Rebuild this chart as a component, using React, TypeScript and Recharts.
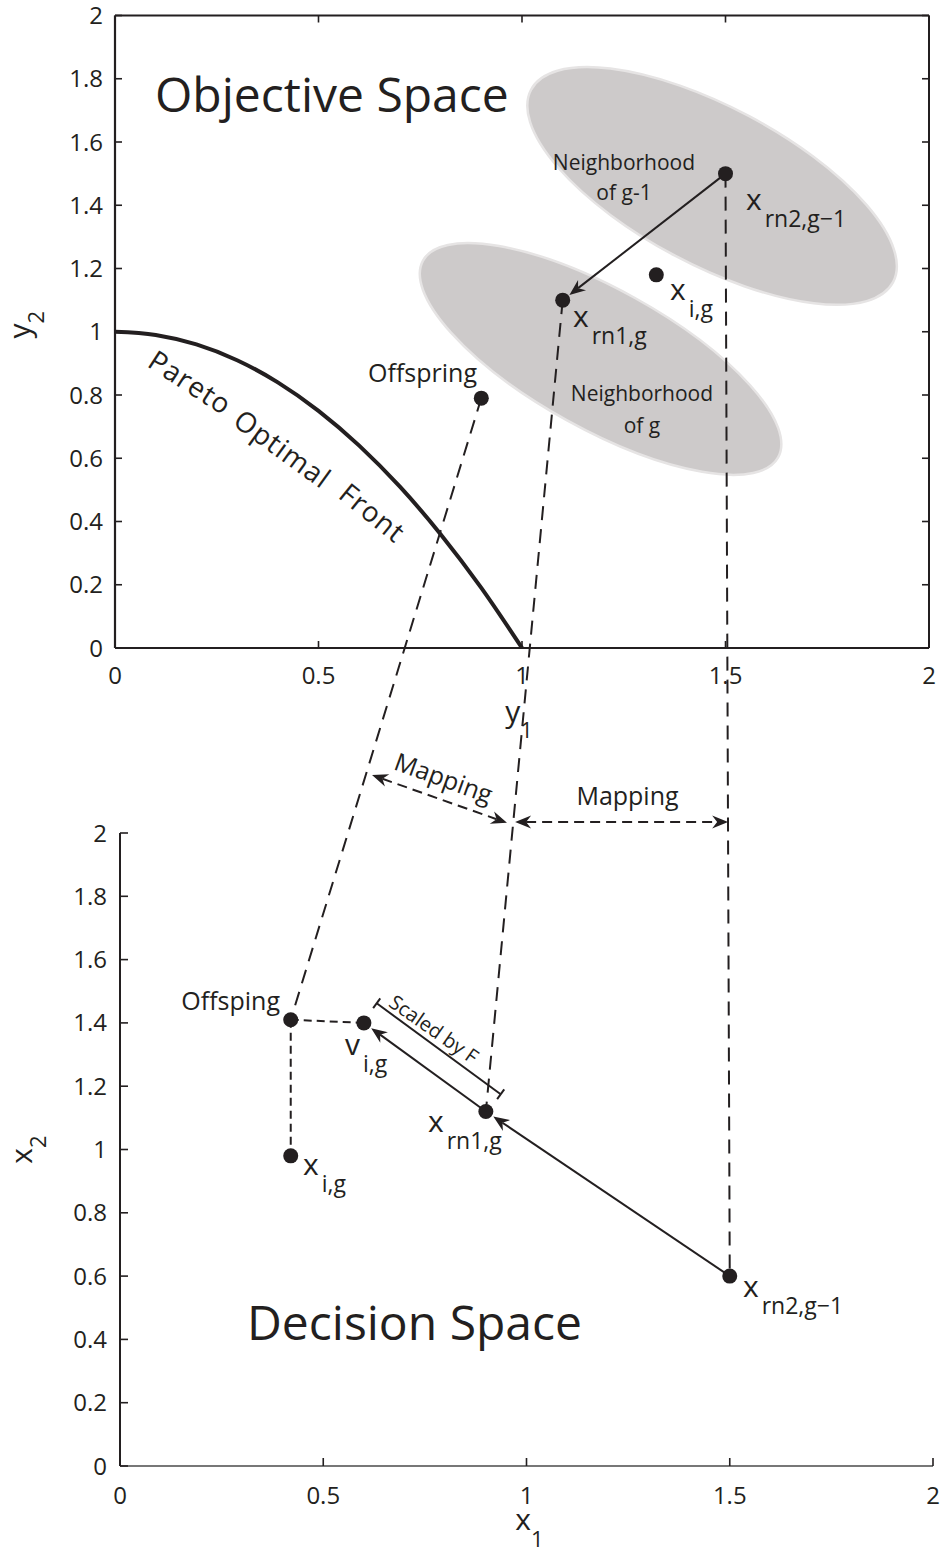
import React from 'react';
import { ComposedChart, XAxis, YAxis, Line, Scatter, ReferenceLine, ReferenceDot } from 'recharts';

const INK = '#231f20';
const FONT = '"Open Sans", "Noto Sans", sans-serif';
const W = 943;
const H = 1555;
const DOMAIN: [number, number] = [0, 2];

// panel geometry (pixels)
const TOP = { left: 115, right: 929, top: 15.5, bottom: 648 };
const BOT = { left: 120, right: 933, top: 833, bottom: 1466 };

// tick values
const yTicks = [0, 0.2, 0.4, 0.6, 0.8, 1, 1.2, 1.4, 1.6, 1.8, 2];
const xTicks = [0, 0.5, 1, 1.5, 2];

// Pareto optimal front (objective space)
const paretoY1 = [0, 0.1, 0.2, 0.3, 0.4, 0.5, 0.6, 0.7, 0.8, 0.9, 1.0];
const paretoY2 = [1.0, 0.99, 0.96, 0.91, 0.84, 0.75, 0.64, 0.51, 0.36, 0.19, 0.0];

// objective-space points
const objNames = ['rn2', 'rn1', 'i', 'offspring'];
const objY1 = [1.5, 1.1, 1.33, 0.9];
const objY2 = [1.5, 1.1, 1.18, 0.79];

// decision-space points
const decNames = ['rn2', 'rn1', 'i', 'v', 'offspring'];
const decX1 = [1.5, 0.9, 0.42, 0.6, 0.42];
const decX2 = [0.6, 1.12, 0.98, 1.4, 1.41];

// neighborhoods (objective space centres)
const hoodNames = ['g-1', 'g'];
const hoodY1 = [1.467, 1.193];
const hoodY2 = [1.461, 0.914];

// mapping arrows (decision-space units, above the panel)
const mapLeftX1 = [0.62, 0.952];
const mapLeftX2 = [2.183, 2.032];
const mapRightX1 = [0.972, 1.496];
const mapRightX2 = [2.035, 2.035];

// "Scaled by F" bracket (decision-space units)
const scaledX1 = [0.6315, 0.9365];
const scaledX2 = [1.462, 1.1744];

const paretoData = paretoY1.map((x, i) => ({ x, y: paretoY2[i] }));
const objPts: Record<string, { x: number; y: number }> = {};
objNames.forEach((n, i) => (objPts[n] = { x: objY1[i], y: objY2[i] }));
const decPts: Record<string, { x: number; y: number }> = {};
decNames.forEach((n, i) => (decPts[n] = { x: decX1[i], y: decX2[i] }));
const objData = objNames.map((n) => objPts[n]);
const decData = decNames.map((n) => decPts[n]);

const botToTop = (p: { x: number; y: number }) => {
  const span = DOMAIN[1] - DOMAIN[0];
  const px = BOT.left + ((p.x - DOMAIN[0]) / span) * (BOT.right - BOT.left);
  const py = BOT.bottom - ((p.y - DOMAIN[0]) / span) * (BOT.bottom - BOT.top);
  return {
    x: DOMAIN[0] + ((px - TOP.left) / (TOP.right - TOP.left)) * span,
    y: DOMAIN[0] + ((TOP.bottom - py) / (TOP.bottom - TOP.top)) * span,
  };
};

// ---------- drawing helpers ----------
const tickFont = { fontFamily: FONT, fontSize: 24, fill: INK };

const yTickLeft = (gap: number, len: number) => (p: any) => (
  <g>
    <line x1={p.x} y1={p.y} x2={p.x + len} y2={p.y} stroke={INK} strokeWidth={1.6} />
    <text x={p.x - gap} y={p.y + 8.5} textAnchor="end" {...tickFont}>
      {p.payload.value}
    </text>
  </g>
);
const yTickRight = (len: number) => (p: any) => (
  <line x1={p.x} y1={p.y} x2={p.x - len} y2={p.y} stroke={INK} strokeWidth={1.6} />
);
const xTickBottom = (off: number, len: number) => (p: any) => (
  <g>
    <line x1={p.x} y1={p.y} x2={p.x} y2={p.y - len} stroke={INK} strokeWidth={1.6} />
    <text x={p.x} y={p.y + off} textAnchor="middle" {...tickFont}>
      {p.payload.value}
    </text>
  </g>
);
const xTickTop = (len: number) => (p: any) => (
  <line x1={p.x} y1={p.y} x2={p.x} y2={p.y + len} stroke={INK} strokeWidth={1.6} />
);

const hTitle = (base: string, sub: string, dx: number, dy: number, sdy: number) => (props: any) => {
  const vb = props.viewBox;
  return (
    <text x={vb.x + vb.width / 2 + dx} y={vb.y + dy} textAnchor="middle" fontFamily={FONT} fontSize={30} fill={INK}>
      {base}
      <tspan dy={sdy} fontSize={22}>
        {sub}
      </tspan>
    </text>
  );
};
const vTitle = (base: string, sub: string, bx: number, dc: number) => (props: any) => {
  const vb = props.viewBox;
  const x = vb.x + bx;
  const y = vb.y + vb.height / 2 + dc;
  return (
    <text x={x} y={y} transform={`rotate(-90 ${x} ${y})`} textAnchor="middle" fontFamily={FONT} fontSize={30} fill={INK}>
      {base}
      <tspan dy={14} fontSize={22}>
        {sub}
      </tspan>
    </text>
  );
};

const headPath = (tx: number, ty: number, ux: number, uy: number, len = 16, half = 6.5, notch = 5) => {
  const bx = tx - ux * len;
  const by = ty - uy * len;
  const nx = -uy;
  const ny = ux;
  const mx = tx - ux * (len - notch);
  const my = ty - uy * (len - notch);
  return `M${tx},${ty} L${bx + nx * half},${by + ny * half} L${mx},${my} L${bx - nx * half},${by - ny * half} Z`;
};

type ArrowOpts = { dash?: string; start?: boolean; end?: boolean; trimEnd?: number; width?: number };
const arrowShape = (o: ArrowOpts) => (p: any) => {
  const { x1, y1, x2, y2 } = p;
  const L = Math.hypot(x2 - x1, y2 - y1) || 1;
  const ux = (x2 - x1) / L;
  const uy = (y2 - y1) / L;
  const ex = x2 - ux * (o.trimEnd || 0);
  const ey = y2 - uy * (o.trimEnd || 0);
  const cutE = o.end ? 11 : 0;
  const cutS = o.start ? 11 : 0;
  return (
    <g>
      <line
        x1={x1 + ux * cutS}
        y1={y1 + uy * cutS}
        x2={ex - ux * cutE}
        y2={ey - uy * cutE}
        stroke={INK}
        strokeWidth={o.width || 2}
        strokeDasharray={o.dash}
      />
      {o.end && <path d={headPath(ex, ey, ux, uy)} fill={INK} />}
      {o.start && <path d={headPath(x1, y1, -ux, -uy)} fill={INK} />}
    </g>
  );
};

const bracketShape = (p: any) => {
  const { x1, y1, x2, y2 } = p;
  const L = Math.hypot(x2 - x1, y2 - y1) || 1;
  const nx = -(y2 - y1) / L;
  const ny = (x2 - x1) / L;
  const c = 6;
  return (
    <g stroke={INK} strokeWidth={2}>
      <line x1={x1} y1={y1} x2={x2} y2={y2} />
      <line x1={x1 - nx * c} y1={y1 - ny * c} x2={x1 + nx * c} y2={y1 + ny * c} />
      <line x1={x2 - nx * c} y1={y2 - ny * c} x2={x2 + nx * c} y2={y2 + ny * c} />
    </g>
  );
};

const ellipseShape = (rx: number, ry: number, angle: number) => (p: any) => (
  <ellipse
    cx={p.cx}
    cy={p.cy}
    rx={rx}
    ry={ry}
    transform={`rotate(${angle} ${p.cx} ${p.cy})`}
    fill="#cdcaca"
    stroke="#e6e4e4"
    strokeWidth={2.5}
  />
);

const dotShape = (p: any) => <circle cx={p.cx} cy={p.cy} r={7.5} fill={INK} />;
const noShape = () => <g />;

const txt = (key: string, x: number, y: number, render: (cx: number, cy: number) => React.ReactElement) => (
  <ReferenceDot key={key} x={x} y={y} r={0} ifOverflow="visible" zIndex={2000} shape={(p: any) => render(p.cx, p.cy)} />
);

const subLabel = (base: string, sub: string) => (cx: number, cy: number) => (
  <text x={cx} y={cy} fontFamily={FONT} fontSize={30} fill={INK}>
    {base}
    <tspan dx={3} dy={17} fontSize={23}>
      {sub}
    </tspan>
  </text>
);

const plain = (s: string, size: number, anchor: string = 'start', rot = 0, spacing = 0) => (cx: number, cy: number) => (
  <text
    x={cx}
    y={cy}
    fontFamily={FONT}
    fontSize={size}
    fill={INK}
    letterSpacing={spacing || undefined}
    textAnchor={anchor as any}
    dominantBaseline={rot ? 'central' : undefined}
    transform={rot ? `rotate(${rot} ${cx} ${cy})` : undefined}
  >
    {s}
  </text>
);

const seg = (a: { x: number; y: number }, b: { x: number; y: number }) => [
  { x: a.x, y: a.y },
  { x: b.x, y: b.y },
];

function TopPanel() {
  const cross = [
    seg(objPts.offspring, botToTop(decPts.offspring)),
    seg(objPts.rn1, botToTop(decPts.rn1)),
    seg(objPts.rn2, botToTop(decPts.rn2)),
  ];
  return (
    <ComposedChart
      width={W}
      height={H}
      margin={{ top: TOP.top - 1, right: W - TOP.right - 1, bottom: H - TOP.bottom - 40, left: 0 }}
    >
      <XAxis
        dataKey="x"
        type="number"
        domain={DOMAIN}
        ticks={xTicks}
        interval={0}
        height={40}
        tickSize={0}
        tickMargin={0}
        tick={xTickBottom(35.5, 7)}
        tickLine={false}
        axisLine={{ stroke: INK, strokeWidth: 2.2 }}
        label={hTitle('y', '1', -3, 74, 16)}
      />
      <XAxis
        xAxisId="t"
        orientation="top"
        dataKey="x"
        type="number"
        domain={DOMAIN}
        ticks={xTicks}
        interval={0}
        height={1}
        tickSize={0}
        tickMargin={0}
        tick={xTickTop(7)}
        tickLine={false}
        axisLine={{ stroke: INK, strokeWidth: 2 }}
      />
      <YAxis
        dataKey="y"
        type="number"
        domain={DOMAIN}
        ticks={yTicks}
        interval={0}
        width={TOP.left}
        tickSize={0}
        tickMargin={0}
        tick={yTickLeft(12, 7)}
        tickLine={false}
        axisLine={{ stroke: INK, strokeWidth: 2.2 }}
        label={vTitle('y', '2', 30, -7)}
      />
      <YAxis
        yAxisId="r"
        orientation="right"
        dataKey="y"
        type="number"
        domain={DOMAIN}
        ticks={yTicks}
        interval={0}
        width={1}
        tickSize={0}
        tickMargin={0}
        tick={yTickRight(7)}
        tickLine={false}
        axisLine={{ stroke: INK, strokeWidth: 2 }}
      />

      {/* anchors the box axes (top / right) */}
      <Scatter data={[{ x: 0, y: 0 }]} xAxisId="t" yAxisId="r" shape={noShape} isAnimationActive={false} />

      <Scatter
        data={[{ x: hoodY1[0], y: hoodY2[0] }]}
        shape={ellipseShape(205, 79, 28)}
        isAnimationActive={false}
        zIndex={-10}
      />
      <Scatter
        data={[{ x: hoodY1[1], y: hoodY2[1] }]}
        shape={ellipseShape(203, 70, 29)}
        isAnimationActive={false}
        zIndex={-10}
      />

      <Line
        data={paretoData}
        dataKey="y"
        type="monotone"
        stroke={INK}
        strokeWidth={4}
        dot={false}
        activeDot={false}
        isAnimationActive={false}
      />

      {cross.map((s, i) => (
        <ReferenceLine
          key={'c' + i}
          segment={s}
          ifOverflow="visible"
          shape={arrowShape({ dash: '14 9', width: 2 })}
        />
      ))}

      <ReferenceLine
        segment={seg(objPts.rn2, objPts.rn1)}
        ifOverflow="visible"
        shape={arrowShape({ end: true, trimEnd: 8.5 })}
      />

      <Scatter data={objData} shape={dotShape} isAnimationActive={false} />

      {txt('obj', 0.0983, 1.695, plain('Objective Space', 48))}
      {txt('nh1a', 1.2506, 1.5115, plain('Neighborhood', 21, 'middle'))}
      {txt('nh1b', 1.2506, 1.4166, plain(`of ${hoodNames[0]}`, 21, 'middle'))}
      {txt('nh2a', 1.2948, 0.781, plain('Neighborhood', 21, 'middle'))}
      {txt('nh2b', 1.2948, 0.6798, plain(`of ${hoodNames[1]}`, 21, 'middle'))}
      {txt('lrn2', 1.5504, 1.385, subLabel('x', 'rn2,g\u22121'))}
      {txt('li', 1.3636, 1.1004, subLabel('x', 'i,g'))}
      {txt('lrn1', 1.1253, 1.015, subLabel('x', 'rn1,g'))}
      {txt('loff', 0.8894, 0.8411, plain('Offspring', 25, 'end'))}
      {txt('p1', 0.186, 0.842, plain('Pareto', 28, 'middle', 33, 1))}
      {txt('p2', 0.413, 0.632, plain('Optimal', 28, 'middle', 36, 1))}
      {txt('p3', 0.634, 0.43, plain('Front', 28, 'middle', 39, 1))}
    </ComposedChart>
  );
}

function BottomPanel() {
  return (
    <ComposedChart
      width={W}
      height={H}
      margin={{ top: BOT.top, right: W - BOT.right, bottom: 0, left: 0 }}
    >
      <XAxis
        dataKey="x"
        type="number"
        domain={DOMAIN}
        ticks={xTicks}
        interval={0}
        height={H - BOT.bottom}
        tickSize={0}
        tickMargin={0}
        tick={xTickBottom(37.5, 8)}
        tickLine={false}
        axisLine={{ stroke: '#4a4a4a', strokeWidth: 1.6 }}
        label={hTitle('x', '1', 3, 64, 17)}
      />
      <YAxis
        dataKey="y"
        type="number"
        domain={DOMAIN}
        ticks={yTicks}
        interval={0}
        width={BOT.left}
        tickSize={0}
        tickMargin={0}
        tick={yTickLeft(13, 8)}
        tickLine={false}
        axisLine={{ stroke: INK, strokeWidth: 2 }}
        label={vTitle('x', '2', 32, 0)}
      />

      <ReferenceLine
        segment={seg(decPts.offspring, decPts.v)}
        ifOverflow="visible"
        shape={arrowShape({ dash: '8 5' })}
      />
      <ReferenceLine
        segment={seg(decPts.offspring, decPts.i)}
        ifOverflow="visible"
        shape={arrowShape({ dash: '8 5' })}
      />
      <ReferenceLine
        segment={seg(decPts.rn2, decPts.rn1)}
        ifOverflow="visible"
        shape={arrowShape({ end: true, trimEnd: 9 })}
      />
      <ReferenceLine
        segment={seg(decPts.rn1, decPts.v)}
        ifOverflow="visible"
        shape={arrowShape({ end: true, trimEnd: 9 })}
      />
      <ReferenceLine
        segment={[
          { x: scaledX1[0], y: scaledX2[0] },
          { x: scaledX1[1], y: scaledX2[1] },
        ]}
        ifOverflow="visible"
        shape={bracketShape}
      />
      <ReferenceLine
        segment={[
          { x: mapLeftX1[0], y: mapLeftX2[0] },
          { x: mapLeftX1[1], y: mapLeftX2[1] },
        ]}
        ifOverflow="visible"
        shape={arrowShape({ dash: '10 6', start: true, end: true })}
      />
      <ReferenceLine
        segment={[
          { x: mapRightX1[0], y: mapRightX2[0] },
          { x: mapRightX1[1], y: mapRightX2[1] },
        ]}
        ifOverflow="visible"
        shape={arrowShape({ dash: '10 6', start: true, end: true })}
      />

      <Scatter data={decData} shape={dotShape} isAnimationActive={false} />

      {txt('dec', 0.3124, 0.3981, plain('Decision Space', 48))}
      {txt('doff', 0.3936, 1.4408, plain('Offsping', 25, 'end'))}
      {txt('dv', 0.5535, 1.2986, subLabel('v', 'i,g'))}
      {txt('drn1', 0.7577, 1.0553, subLabel('x', 'rn1,g'))}
      {txt('di', 0.4502, 0.9194, subLabel('x', 'i,g'))}
      {txt('drn2', 1.5326, 0.534, subLabel('x', 'rn2,g\u22121'))}
      {txt('sf', 0.7725, 1.3807, plain('Scaled by F', 20, 'middle', 35))}
      {txt('m1', 0.797, 2.1769, plain('Mapping', 25, 'middle', 20))}
      {txt('m2', 1.2485, 2.0885, plain('Mapping', 25, 'middle'))}
    </ComposedChart>
  );
}

export default function App() {
  return (
    <div style={{ position: 'absolute', left: 0, top: 0, width: W, height: H, background: '#fff' }}>
      <div style={{ position: 'absolute', left: 0, top: 0 }}>
        <BottomPanel />
      </div>
      <div style={{ position: 'absolute', left: 0, top: 0 }}>
        <TopPanel />
      </div>
    </div>
  );
}
